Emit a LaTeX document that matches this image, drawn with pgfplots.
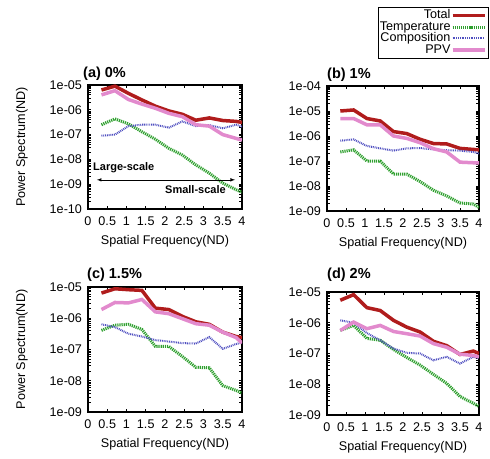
\documentclass[border=0pt]{standalone}
\usepackage{fontspec}
\setmainfont{Liberation Sans}
\usepackage{pgfplots}
\usepackage{pgfplotstable}
\pgfplotsset{compat=1.18}
\definecolor{totred}{HTML}{B01C1C}
\definecolor{tempgreen}{HTML}{2FA02F}
\definecolor{compblue}{HTML}{4F4FC0}
\definecolor{ppvpink}{HTML}{E28ACD}

\pgfplotstableread{
x total temp comp ppv
0.35 6.3e-6 2.5e-7 9e-8 4e-6
0.7 9e-6 4.3e-7 1e-7 5.9e-6
1.05 4.6e-6 2.7e-7 2.2e-7 2.6e-6
1.4 2.5e-6 1.3e-7 2.5e-7 1.7e-6
1.75 1.4e-6 6.5e-8 2.5e-7 1.15e-6
2.1 9e-7 2.8e-8 1.9e-7 7.2e-7
2.45 6.6e-7 1.5e-8 3.4e-7 5.3e-7
2.8 3.8e-7 6e-9 2.2e-7 2.5e-7
3.15 4.7e-7 2.8e-9 2.4e-7 2.2e-7
3.5 3.7e-7 1.1e-9 1.8e-7 1e-7
3.85 3.4e-7 6e-10 2.5e-7 7e-8
4 3.1e-7 4.7e-10 2.1e-7 6e-8
}\dataA
\pgfplotstableread{
x total temp comp ppv
0.35 1.0e-5 2.3e-7 6.5e-7 5e-6
0.7 1.1e-5 2.8e-7 7.3e-7 5e-6
1.05 5e-6 1e-7 4e-7 2.8e-6
1.4 4e-6 1e-7 3.2e-7 2.8e-6
1.75 1.5e-6 3e-8 2.6e-7 1e-6
2.1 1.25e-6 3e-8 3.2e-7 8e-7
2.45 7.4e-7 1.5e-8 3.3e-7 5.4e-7
2.8 5e-7 6.8e-9 2.9e-7 3.1e-7
3.15 4.8e-7 4e-9 2.7e-7 2.3e-7
3.5 3.2e-7 2.1e-9 2.6e-7 9e-8
3.85 2.9e-7 1.9e-9 2.3e-7 8.5e-8
4 2.8e-7 1.4e-9 2e-7 8.5e-8
}\dataB
\pgfplotstableread{
x total temp comp ppv
0.35 6.4e-6 4.1e-7 6.4e-7 1.9e-6
0.7 8.8e-6 6e-7 5.2e-7 3.2e-6
1.05 8.2e-6 6.4e-7 3.2e-7 3.1e-6
1.4 7.8e-6 4.4e-7 2.6e-7 4e-6
1.75 2.1e-6 1.25e-7 2e-7 1.6e-6
2.1 1.9e-6 1.25e-7 1.8e-7 1.4e-6
2.45 1.15e-6 6e-8 1.6e-7 9.7e-7
2.8 7.7e-7 2.7e-8 1.55e-7 6.7e-7
3.15 6.4e-7 2.6e-8 2.5e-7 6e-7
3.5 3.6e-7 7e-9 1.05e-7 3.6e-7
3.85 2.6e-7 4.9e-9 1.5e-7 2.4e-7
4 2.4e-7 4e-9 1.7e-7 1.6e-7
}\dataC
\pgfplotstableread{
x total temp comp ppv
0.35 5.4e-6 5.6e-7 1.2e-6 5.6e-7
0.7 8.2e-6 8.2e-7 1e-6 1.05e-6
1.05 3.1e-6 3.1e-7 4.6e-7 6.4e-7
1.4 2.5e-6 2.7e-7 2.7e-7 8.2e-7
1.75 1.2e-6 1.35e-7 1.45e-7 5.2e-7
2.1 7.2e-7 7.4e-8 1.05e-7 4.4e-7
2.45 5e-7 4.2e-8 1e-7 3.7e-7
2.8 2.5e-7 2.1e-8 6e-8 2.1e-7
3.15 1.8e-7 1.07e-8 7.8e-8 1.6e-7
3.5 9.3e-8 4e-9 4.7e-8 9.5e-8
3.85 1.2e-7 2.4e-9 7.8e-8 8.6e-8
4 1e-7 1.9e-9 7e-8 7.8e-8
}\dataD

\pgfplotsset{
  mypanelst/.style={
    scale only axis,
    xmin=0, xmax=4,
    xtick={0,0.5,1,1.5,2,2.5,3,3.5,4},
    xticklabels={0,0.5,1,1.5,2,2.5,3,3.5,4},
    tick align=inside,
    major tick length=3pt,
    minor tick num=0,
    axis line style={line width=1.1pt},
    every tick/.style={black, line width=0.8pt},
    /pgf/number format/assume math mode=true,
    tick label style={font=\fontsize{12.6}{14}\selectfont},
    label style={font=\fontsize{12.6}{14}\selectfont},
    xticklabel shift=4.5pt,
    yticklabel shift=2.5pt,
    xlabel={Spatial Frequency(ND)},
    xlabel style={at={(axis description cs:0.5,-0.26)}, anchor=center},
    clip=true,
  },
  totst/.style={color=totred, line width=3.5pt},
  tempst/.style={color=tempgreen, line width=3pt, dash pattern=on 1.2pt off 0.9pt},
  compst/.style={color=compblue, line width=2pt, dash pattern=on 0.9pt off 0.9pt},
  ppvst/.style={color=ppvpink, line width=3.5pt},
}
\newcommand{\ttl}{\fontsize{14.5}{16}\selectfont\bfseries}

\begin{document}
\begin{tikzpicture}
\path[use as bounding box] (0pt,0pt) rectangle (490pt,458pt);

% (a)
\begin{axis}[mypanelst, ymode=log, at={(88pt,249pt)}, anchor=south west, width=154pt, height=124pt,
  ymin=1e-10, ymax=1e-5,
  ytick={1e-10,1e-9,1e-8,1e-7,1e-6,1e-5},
  yticklabels={1e-10,1e-09,1e-08,1e-07,1e-06,1e-05},
  ylabel={Power Spectrum(ND)},
  ylabel style={at={(axis description cs:-0.43,0.5)}, anchor=center, rotate=0}]
\addplot[totst] table[x=x,y=total] {\dataA};
\addplot[tempst] table[x=x,y=temp] {\dataA};
\addplot[compst] table[x=x,y=comp] {\dataA};
\addplot[ppvst] table[x=x,y=ppv] {\dataA};
\draw[<->, >=latex, line width=0.6pt] (axis cs:0.23,1.5e-9) -- (axis cs:3.82,1.5e-9);
\node[anchor=west, font=\fontsize{11}{12}\selectfont\bfseries, inner sep=0pt] at (axis cs:0.13,4.5e-9) {Large-scale};
\node[anchor=west, font=\fontsize{11}{12}\selectfont\bfseries, inner sep=0pt] at (axis cs:2.0,6e-10) {Small-scale};
\end{axis}

% (b)
\begin{axis}[mypanelst, ymode=log, at={(327pt,247pt)}, anchor=south west, width=152pt, height=125pt,
  ymin=1e-9, ymax=1e-4,
  ytick={1e-9,1e-8,1e-7,1e-6,1e-5,1e-4},
  yticklabels={1e-09,1e-08,1e-07,1e-06,1e-05,1e-04},
  legend plot pos=right,
  legend cell align=right,
  legend image code/.code={\draw[#1] (0pt,0pt) -- (32pt,0pt);},
  legend style={at={(1.06,1.635)}, anchor=north east, draw=black, line width=0.6pt,
    font=\fontsize{12.6}{13}\selectfont, row sep=0pt, inner xsep=1.5pt, inner ysep=3pt,
    nodes={inner sep=0.3pt, text height=8.6pt, text depth=2.2pt}}]
\addplot[totst] table[x=x,y=total] {\dataB};
\addlegendentry{Total}
\addplot[tempst] table[x=x,y=temp] {\dataB};
\addlegendentry{Temperature}
\addplot[compst] table[x=x,y=comp] {\dataB};
\addlegendentry{Composition}
\addplot[ppvst] table[x=x,y=ppv] {\dataB};
\addlegendentry{PPV}
\end{axis}

% (c)
\begin{axis}[mypanelst, ymode=log, at={(88pt,46pt)}, anchor=south west, width=154pt, height=125pt,
  ymin=1e-9, ymax=1e-5,
  ytick={1e-9,1e-8,1e-7,1e-6,1e-5},
  yticklabels={1e-09,1e-08,1e-07,1e-06,1e-05},
  ylabel={Power Spectrum(ND)},
  ylabel style={at={(axis description cs:-0.43,0.5)}, anchor=center, rotate=0}]
\addplot[totst] table[x=x,y=total] {\dataC};
\addplot[tempst] table[x=x,y=temp] {\dataC};
\addplot[compst] table[x=x,y=comp] {\dataC};
\addplot[ppvst] table[x=x,y=ppv] {\dataC};
\end{axis}

% (d)
\begin{axis}[mypanelst, ymode=log, at={(327pt,43pt)}, anchor=south west, width=152pt, height=123pt,
  ymin=1e-9, ymax=1e-5,
  ytick={1e-9,1e-8,1e-7,1e-6,1e-5},
  yticklabels={1e-09,1e-08,1e-07,1e-06,1e-05}]
\addplot[totst] table[x=x,y=total] {\dataD};
\addplot[tempst] table[x=x,y=temp] {\dataD};
\addplot[compst] table[x=x,y=comp] {\dataD};
\addplot[ppvst] table[x=x,y=ppv] {\dataD};
\end{axis}

\node[anchor=west, inner sep=0pt, font=\ttl] at (83pt,384pt) {(a) 0\%};
\node[anchor=west, inner sep=0pt, font=\ttl] at (327pt,383pt) {(b) 1\%};
\node[anchor=west, inner sep=0pt, font=\ttl] at (87pt,183pt) {(c) 1.5\%};
\node[anchor=west, inner sep=0pt, font=\ttl] at (327pt,183pt) {(d) 2\%};
\end{tikzpicture}
\end{document}
